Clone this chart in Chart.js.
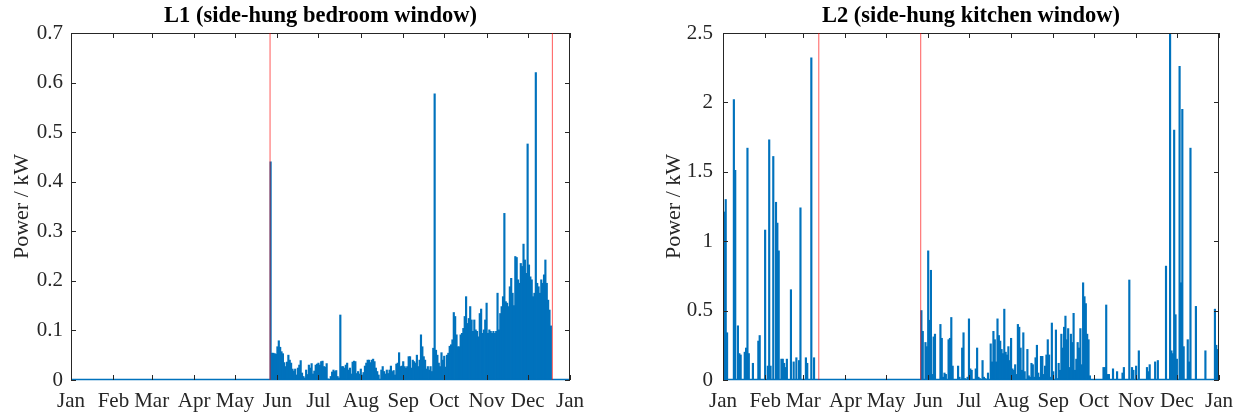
<!DOCTYPE html>
<html>
<head>
<meta charset="utf-8">
<title>Window power</title>
<script src="https://cdn.jsdelivr.net/npm/chart.js@4.4.1/dist/chart.umd.min.js"></script>
<style>
    html, body { margin: 0; padding: 0; background: #fff; overflow: hidden; }
    .panel { position: absolute; top: 0; width: 621px; height: 416px; }
    #panel-l1 { left: 0; }
    #panel-l2 { left: 621px; }
</style>
</head>
<body>
<div class="panel" id="panel-l1"><canvas id="chartL1" width="621" height="416"></canvas></div>
<div class="panel" id="panel-l2"><canvas id="chartL2" width="621" height="416"></canvas></div>
<script>
// Month axis: label and day-of-year where each month begins
const monthLabels = ["Jan", "Feb", "Mar", "Apr", "May", "Jun", "Jul", "Aug", "Sep", "Oct", "Nov", "Dec", "Jan"];
const monthStartDay = [0, 31, 59, 90, 120, 151, 181, 212, 243, 273, 304, 334, 365];

// L1 daily peak power (kW), one array per month starting on day 1
const l1Jan = [];
const l1Feb = [];
const l1Mar = [];
const l1Apr = [];
const l1May = [0, 0, 0, 0, 0, 0, 0, 0, 0, 0, 0, 0, 0, 0, 0, 0, 0, 0, 0, 0, 0, 0, 0, 0, 0, 0,
    0.44, 0.054, 0.054, 0.053, 0.052];
const l1Jun = [0.067, 0.079, 0.066, 0.057, 0.053, 0.035, 0.027, 0.036, 0.050, 0.040,
    0.034, 0.022, 0.018, 0.022, 0.010, 0.024, 0.030, 0.039, 0.014, 0.007,
    0.004, 0.020, 0.011, 0.030, 0.024, 0.033, 0.012, 0.018, 0.030, 0.032];
const l1Jul = [0.034, 0.030, 0.037, 0.038, 0.027, 0.026, 0.033, 0.002, 0, 0.007,
    0.016, 0.020, 0.017, 0.019, 0.007, 0.004, 0.131, 0.027, 0.027, 0.024,
    0.030, 0.034, 0.020, 0.024, 0.012, 0.036, 0.038, 0.037, 0.013, 0.017, 0.012];
const l1Aug = [0.022, 0.010, 0.015, 0.028, 0.034, 0.040, 0.040, 0.035, 0.040, 0.042,
    0.037, 0.024, 0.017, 0.010, 0.001, 0.020, 0.027, 0.017, 0.012, 0.020,
    0.013, 0.020, 0.028, 0.017, 0.019, 0.010, 0.032, 0.034, 0.055, 0.027, 0.028];
const l1Sep = [0.037, 0.027, 0.024, 0.027, 0.047, 0.047, 0.024, 0.040, 0.037, 0.034,
    0.050, 0.027, 0.040, 0.091, 0.067, 0.047, 0.040, 0.022, 0.027, 0.020,
    0.027, 0.017, 0.064, 0.577, 0.060, 0.050, 0.034, 0.027, 0.055, 0.040];
const l1Oct = [0.048, 0.026, 0.050, 0.054, 0.068, 0.071, 0.081, 0.136, 0.128, 0.091,
    0.067, 0.067, 0.091, 0.094, 0.104, 0.128, 0.168, 0.114, 0.124, 0.148,
    0.121, 0.098, 0.121, 0.101, 0.098, 0.087, 0.134, 0.143, 0.094, 0.101, 0.121];
const l1Nov = [0.155, 0.094, 0.101, 0.098, 0.094, 0.098, 0.094, 0.098, 0.175, 0.101,
    0.134, 0.148, 0.168, 0.336, 0.158, 0.155, 0.148, 0.188, 0.205, 0.175,
    0.150, 0.249, 0.247, 0.202, 0.195, 0.235, 0.229, 0.274, 0.242, 0.215];
const l1Dec = [0.476, 0.232, 0.208, 0.202, 0.168, 0.175, 0.620, 0.195, 0.188, 0.175,
    0.202, 0.195, 0.212, 0.242, 0.195, 0.161, 0.141, 0.109];

// L2 daily peak power (kW)
const l2Jan = [1.21, 1.21, 1.30, 0.34, 0, 0, 0, 0, 2.02, 1.51,
    0, 0.39, 0.19, 0.18, 0, 0, 0.20, 0.23, 1.67, 0.19,
    0, 0, 0.12, 0, 0, 0, 0.28, 0.32, 0, 0, 0];
const l2Feb = [1.08, 0, 0.10, 1.73, 0.10, 0, 1.61, 0, 1.28, 1.13,
    0.93, 0, 0.15, 0.15, 0.12, 0.09, 0.15, 0, 0, 0.65,
    0, 0.13, 0, 0.16, 0, 0.14, 1.24, 0];
const l2Mar = [0, 0, 0.16, 0.12, 0, 0, 2.32, 0, 0.16];
const l2Apr = [];
const l2May = [0, 0, 0, 0, 0, 0, 0, 0, 0, 0, 0, 0, 0, 0, 0, 0, 0, 0, 0, 0, 0, 0, 0, 0, 0, 0,
    0.50, 0.35, 0, 0.27, 0.24];
const l2Jun = [0.93, 0.43, 0.79, 0.04, 0.31, 0.33, 0, 0, 0, 0.40,
    0.30, 0.02, 0.05, 0.04, 0, 0.29, 0.30, 0.45, 0.10, 0,
    0, 0, 0.10, 0.02, 0, 0.23, 0.34, 0.01, 0, 0.02];
const l2Jul = [0.44, 0.08, 0.07, 0, 0, 0.08, 0.23, 0.02, 0.01, 0,
    0.14, 0.02, 0.01, 0, 0.05, 0, 0.26, 0.13, 0.35, 0.29,
    0.13, 0.44, 0.32, 0.28, 0.22, 0.19, 0.51, 0.20, 0.18, 0.24, 0.14];
const l2Aug = [0.30, 0.08, 0.07, 0.11, 0.04, 0.40, 0.38, 0.23, 0.07, 0.34,
    0.06, 0, 0.22, 0.03, 0.02, 0.12, 0.11, 0.02, 0.16, 0.25,
    0.05, 0.02, 0.17, 0.17, 0.04, 0.10, 0.18, 0.29, 0.18, 0.02, 0.41];
const l2Sep = [0.06, 0, 0.36, 0.01, 0.12, 0.07, 0.33, 0.23, 0.38, 0.46,
    0.29, 0.37, 0.09, 0.33, 0.27, 0.48, 0.07, 0.15, 0.27, 0.23,
    0.37, 0.11, 0.70, 0.60, 0.55, 0.33, 0.29, 0.03, 0, 0];
const l2Oct = [0, 0, 0, 0, 0, 0, 0, 0.09, 0.09, 0.54,
    0.04, 0.04, 0, 0, 0.08, 0, 0, 0.06, 0, 0,
    0, 0.05, 0.09, 0, 0, 0, 0.72, 0, 0.09, 0.07, 0];
const l2Nov = [0.10, 0, 0.21, 0, 0, 0, 0, 0, 0.09, 0.06,
    0.11, 0, 0, 0, 0.13, 0, 0.14, 0, 0, 0,
    0, 0, 0.82, 0, 0, 2.49, 0.21, 0.19, 1.80, 0.47];
const l2Dec = [0.15, 0, 2.26, 0.70, 1.95, 0.24, 0, 0, 0.29, 0.13,
    1.67, 0, 0, 0, 0.53, 0, 0, 0, 0, 0,
    0, 0.21, 0, 0, 0, 0, 0, 0, 0.51, 0.25, 0.22];

// Y tick values
const l1YTicks = [0, 0.1, 0.2, 0.3, 0.4, 0.5, 0.6, 0.7];
const l2YTicks = [0, 0.5, 1, 1.5, 2, 2.5];

// Red event markers (day of year)
const l1Markers = [145.6, 352.1];
const l2Markers = [70.5, 145.5];

const TEXT = "#262626";
const BLUE = "#0072bd";
const FONT = "'Liberation Serif', 'Times New Roman', serif";

// Flatten monthly arrays into {x: dayOfYear, y: kW}
function toPoints(months) {
    const pts = [];
    months.forEach((arr, m) => {
        arr.forEach((v, i) => pts.push({ x: monthStartDay[m] + i, y: v }));
    });
    return pts;
}

function line(ctx, x1, y1, x2, y2) {
    ctx.beginPath();
    ctx.moveTo(x1, y1);
    ctx.lineTo(x2, y2);
    ctx.stroke();
}

// Box, inward ticks, zero line, markers and title (MATLAB-like axes)
const axesBox = {
    id: "axesBox",
    afterDatasetsDraw(chart, args, opts) {
        const { ctx, chartArea: a, scales: { x, y } } = chart;
        ctx.save();

        ctx.strokeStyle = BLUE;
        ctx.lineWidth = 1.3;
        line(ctx, a.left, a.bottom - 0.5, a.right, a.bottom - 0.5);

        ctx.strokeStyle = TEXT;
        ctx.lineWidth = 1;
        line(ctx, a.left + 0.5, a.top, a.left + 0.5, a.bottom);
        line(ctx, a.right - 0.5, a.top, a.right - 0.5, a.bottom);
        line(ctx, a.left, a.top + 0.5, a.right, a.top + 0.5);

        x.ticks.forEach((t) => {
            const px = Math.round(x.getPixelForValue(t.value)) + 0.5;
            line(ctx, px, a.top, px, a.top + 5);
            line(ctx, px, a.bottom, px, a.bottom - 5);
        });
        y.ticks.forEach((t) => {
            const py = Math.round(y.getPixelForValue(t.value)) + 0.5;
            line(ctx, a.left, py, a.left + 5, py);
            line(ctx, a.right, py, a.right - 5, py);
        });

        ctx.strokeStyle = "rgba(255, 0, 0, 0.65)";
        ctx.lineWidth = 1;
        opts.markers.forEach((d) => {
            const px = x.getPixelForValue(d);
            line(ctx, px, a.top, px, a.bottom);
        });

        ctx.fillStyle = "#000";
        ctx.font = "bold 22.5px " + FONT;
        ctx.textAlign = "center";
        ctx.textBaseline = "middle";
        ctx.fillText(opts.title, (a.left + a.right) / 2, 16);
        ctx.restore();
    },
};

function makeChart(canvasId, cfg) {
    return new Chart(document.getElementById(canvasId), {
        type: "bar",
        data: {
            datasets: [{
                data: toPoints(cfg.months),
                backgroundColor: BLUE,
                borderWidth: 0,
                barPercentage: 1,
                categoryPercentage: 1,
                inflateAmount: 0.4,
            }],
        },
        options: {
            responsive: false,
            animation: false,
            devicePixelRatio: 1,
            layout: { padding: { top: 33, right: cfg.padRight, bottom: 0, left: cfg.padLeft } },
            plugins: {
                legend: { display: false },
                tooltip: { enabled: false },
                axesBox: { title: cfg.title, markers: cfg.markers },
            },
            scales: {
                x: {
                    type: "linear",
                    min: 0,
                    max: 365,
                    offset: false,
                    grid: { display: false, drawTicks: false },
                    border: { display: false },
                    afterBuildTicks: (scale) => {
                        scale.ticks = monthStartDay.map((v) => ({ value: v }));
                    },
                    afterFit: (scale) => { scale.height = 36; },
                    ticks: {
                        autoSkip: false,
                        maxRotation: 0,
                        padding: 9,
                        color: TEXT,
                        font: { family: FONT, size: 21 },
                        callback: (v) => monthLabels[monthStartDay.indexOf(v)],
                    },
                },
                y: {
                    min: 0,
                    max: cfg.yTicks[cfg.yTicks.length - 1],
                    grid: { display: false, drawTicks: false },
                    border: { display: false },
                    afterBuildTicks: (scale) => {
                        scale.ticks = cfg.yTicks.map((v) => ({ value: v }));
                    },
                    afterFit: (scale) => { scale.width = 71; },
                    ticks: {
                        padding: cfg.tickPad,
                        color: TEXT,
                        font: { family: FONT, size: 21 },
                        callback: (v) => String(v),
                    },
                    title: {
                        display: true,
                        text: "Power / kW",
                        color: TEXT,
                        font: { family: FONT, size: 22 },
                        padding: { top: 9, bottom: 0 },
                    },
                },
            },
        },
        plugins: [axesBox],
    });
}

makeChart("chartL1", {
    title: "L1 (side-hung bedroom window)",
    months: [l1Jan, l1Feb, l1Mar, l1Apr, l1May, l1Jun, l1Jul, l1Aug, l1Sep, l1Oct, l1Nov, l1Dec],
    yTicks: l1YTicks,
    markers: l1Markers,
    padLeft: 0,
    padRight: 51,
    tickPad: 8,
});

makeChart("chartL2", {
    title: "L2 (side-hung kitchen window)",
    months: [l2Jan, l2Feb, l2Mar, l2Apr, l2May, l2Jun, l2Jul, l2Aug, l2Sep, l2Oct, l2Nov, l2Dec],
    yTicks: l2YTicks,
    markers: l2Markers,
    padLeft: 31,
    padRight: 20,
    tickPad: 10,
});
</script>
</body>
</html>
